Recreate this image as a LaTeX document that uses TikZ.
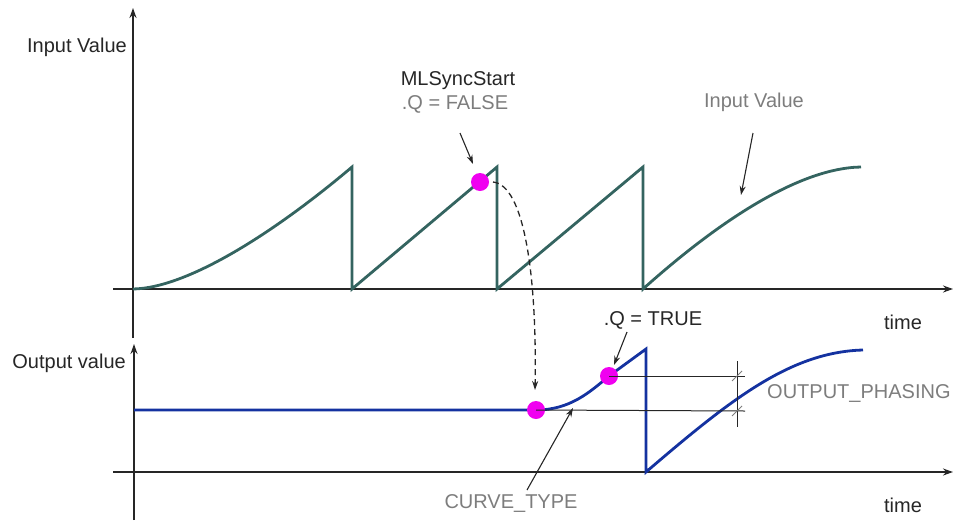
\documentclass[tikz,border=0pt]{standalone}
\usepackage{fontspec}
\setmainfont{Liberation Sans}
\usetikzlibrary{arrows.meta}
\definecolor{teal1}{RGB}{52,100,96}
\definecolor{blue1}{RGB}{20,50,160}
\definecolor{mag}{RGB}{240,0,240}
\definecolor{txtgray}{RGB}{125,125,125}
\begin{document}
\begin{tikzpicture}[x=1pt,y=-1pt,
  axis/.style={line width=1.6pt,black!85,-{Stealth[length=10pt,width=7pt]}},
  plain/.style={line width=1.6pt,black!85},
  sig/.style={line width=2.8pt,teal1,line join=miter},
  outsig/.style={line width=2.8pt,blue1,line join=miter},
  dot/.style={circle,fill=mag,inner sep=0pt,minimum size=18pt},
  lbl/.style={font=\fontsize{20}{23}\selectfont,inner sep=0pt,text=black!85},
  glbl/.style={font=\fontsize{20}{23}\selectfont,inner sep=0pt,text=txtgray},
  ptr/.style={line width=1.1pt,black!85,-{Stealth[length=9pt,width=6pt]}},
  thin/.style={line width=1pt,black!85},
  tick/.style={line width=0.8pt,txtgray}]
\useasboundingbox (0,0) rectangle (953,520);
% axes
\coordinate (ty0) at (133,338); \coordinate (ty1) at (133,8);
\coordinate (tx0) at (113,289); \coordinate (tx1) at (953,289);
\coordinate (by0) at (134,520); \coordinate (by1) at (134,344);
\coordinate (bx0) at (113,472); \coordinate (bx1) at (953,472);
\draw[axis] (ty0) -- (ty1);
\draw[axis] (tx0) -- (tx1);
\draw[axis] (by0) -- (by1);
\draw[axis] (bx0) -- (bx1);
% axis labels
\node[lbl,anchor=east] (lin) at (127,47) {Input Value};
\node[lbl,anchor=east] (lout) at (126,363) {Output value};
\node[lbl] (t1) at (903,322) {time};
\node[lbl] (t2) at (903,505) {time};
% top signal
\draw[sig] (133,289) .. controls (190,288) and (280,228) .. (352,167)
  -- (352,289) -- (497,167) -- (497,289) -- (643,167) -- (643,289)
  .. controls (720,220) and (800,168) .. (861,167);
% bottom signal
\draw[outsig] (134,410) -- (536,410) .. controls (570,410) and (590,392) .. (609,376)
  -- (646,349) -- (646,472) .. controls (730,400) and (790,352) .. (863,350);
% phasing lines
\coordinate (ph1) at (745,376);
\coordinate (ph2) at (745,411);
\coordinate (pv0) at (737,361);
\coordinate (pv1) at (737,427);
% dots
\node[dot] (d1) at (480,182) {};
\node[dot] (d2) at (536,410) {};
\node[dot] (d3) at (609,376) {};
\draw[thin] (d3.center) -- (ph1);
\draw[thin] (d2.center) -- (ph2);
\draw[thin] (pv0) -- (pv1);
\draw[tick] (732,381) -- (742,371);
\draw[tick] (732,416) -- (742,406);
% labels
\node[lbl] (ml) at (458,81) {MLSyncStart};
\node[glbl] (qf) at (455,104) {.Q = FALSE};
\node[glbl] (iv) at (754,102) {Input Value};
\node[lbl] (qt) at (653,320) {.Q = TRUE};
\node[glbl,anchor=west] (op) at (767,393) {OUTPUT\_PHASING};
\node[glbl] (ct) at (511,503) {CURVE\_TYPE};
% pointers
\coordinate (a1s) at (460,133); \coordinate (a1e) at (473,164);
\draw[ptr] (a1s) -- (a1e);
\coordinate (a2s) at (753,133); \coordinate (a2e) at (741,195);
\draw[ptr] (a2s) -- (a2e);
\coordinate (a3s) at (627,332); \coordinate (a3e) at (614,365);
\draw[ptr] (a3s) -- (a3e);
\coordinate (a4s) at (527,490); \coordinate (a4e) at (573,408);
\draw[ptr] (a4s) -- (a4e);
% dashed transfer
\draw[line width=1.3pt,black!85,dashed,dash pattern=on 6pt off 4pt,-{Stealth[length=9pt,width=6pt]}]
  (493,182) .. controls (525,185) and (537,280) .. (535,390);
\end{tikzpicture}
\end{document}
